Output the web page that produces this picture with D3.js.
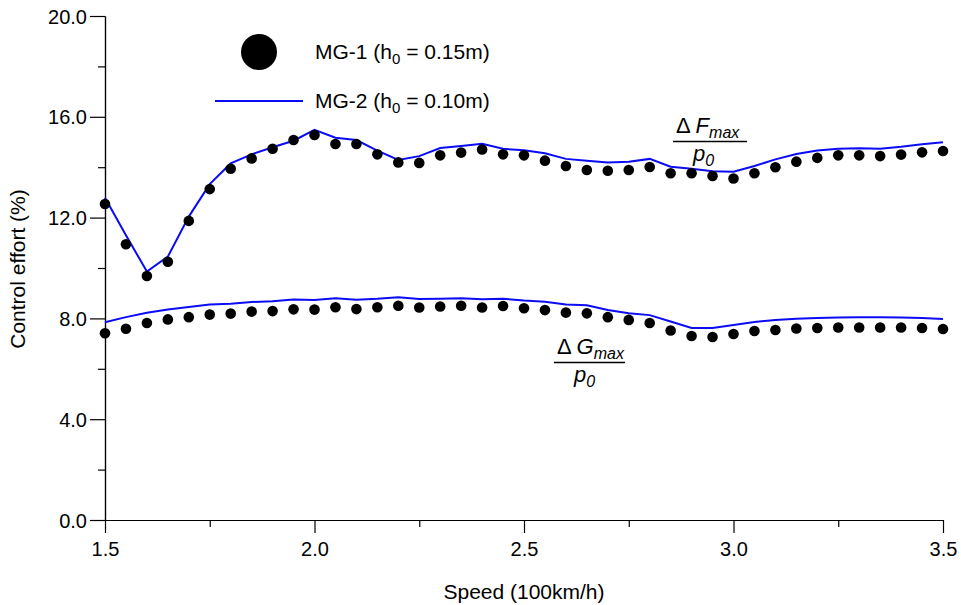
<!DOCTYPE html>
<html><head><meta charset="utf-8">
<script src="https://cdn.jsdelivr.net/npm/d3@7/dist/d3.min.js"></script>
<style>
body{margin:0;background:#fff}
text{font-family:"Liberation Sans",Arial,Helvetica,sans-serif;fill:#000}
</style>
</head><body>
<svg id="c" width="961" height="605"></svg>
<script>
// ---- data ----
const speed = [1.50,1.55,1.60,1.65,1.70,1.75,1.80,1.85,1.90,1.95,2.00,2.05,2.10,2.15,2.20,2.25,2.30,2.35,2.40,2.45,2.50,2.55,2.60,2.65,2.70,2.75,2.80,2.85,2.90,2.95,3.00,3.05,3.10,3.15,3.20,3.25,3.30,3.35,3.40,3.45,3.50];
// ΔFmax/p0 (%)
const mg1F = [12.54,10.94,9.68,10.25,11.87,13.13,13.94,14.35,14.73,15.08,15.28,14.92,14.92,14.51,14.19,14.17,14.47,14.58,14.70,14.51,14.47,14.26,14.05,13.89,13.86,13.89,14.01,13.76,13.76,13.65,13.55,13.76,14.00,14.22,14.37,14.47,14.47,14.44,14.50,14.59,14.64];
const mg2F = [12.79,11.30,9.86,10.45,12.04,13.33,14.15,14.51,14.79,15.05,15.48,15.17,15.08,14.66,14.29,14.44,14.76,14.84,14.93,14.73,14.67,14.55,14.33,14.26,14.19,14.22,14.33,14.02,13.94,13.84,13.82,14.05,14.31,14.52,14.66,14.73,14.75,14.73,14.81,14.91,14.99];
// ΔGmax/p0 (%)
const mg1G = [7.41,7.59,7.82,7.96,8.05,8.15,8.19,8.27,8.29,8.36,8.35,8.44,8.37,8.44,8.50,8.43,8.47,8.50,8.43,8.49,8.40,8.33,8.23,8.20,8.05,7.94,7.82,7.52,7.30,7.26,7.38,7.50,7.54,7.60,7.62,7.64,7.64,7.64,7.64,7.62,7.58];
const mg2G = [7.85,8.05,8.22,8.35,8.45,8.55,8.58,8.65,8.68,8.75,8.73,8.80,8.74,8.78,8.84,8.77,8.78,8.80,8.76,8.78,8.71,8.66,8.55,8.52,8.33,8.20,8.13,7.88,7.62,7.62,7.74,7.86,7.94,7.99,8.02,8.04,8.05,8.05,8.04,8.02,7.98];

const xTickValues = [1.5,2.0,2.5,3.0,3.5];
const xTickLabels = ["1.5","2.0","2.5","3.0","3.5"];
const xMinorTicks = [1.75,2.25,2.75,3.25];
const yTickValues = [0,4,8,12,16,20];
const yTickLabels = ["0.0","4.0","8.0","12.0","16.0","20.0"];
const yMinorTicks = [2,6,10,14,18];
const legendNames = [["MG-1 (h","0"," = 0.15m)"],["MG-2 (h","0"," = 0.10m)"]];
const xTitle = "Speed (100km/h)";
const yTitle = "Control effort (%)";

// ---- chart ----
const svg = d3.select("#c");
const x = d3.scaleLinear().domain([1.5,3.5]).range([105,943]);
const y = d3.scaleLinear().domain([0,20]).range([520,16]);
const BLUE = "#0b0bf5";
const FS = 20;

// axes
const gx = svg.append("g").attr("transform","translate(0,520)")
  .call(d3.axisBottom(x).tickValues(xTickValues).tickFormat((d,i)=>xTickLabels[i]).tickSize(13).tickSizeOuter(0).tickPadding(6));
const gxm = svg.append("g").attr("transform","translate(0,520)")
  .call(d3.axisBottom(x).tickValues(xMinorTicks).tickFormat("").tickSize(7).tickSizeOuter(0));
const gy = svg.append("g").attr("transform","translate(105,0)")
  .call(d3.axisLeft(y).tickValues(yTickValues).tickFormat((d,i)=>yTickLabels[i]).tickSize(15).tickSizeOuter(0).tickPadding(3));
const gym = svg.append("g").attr("transform","translate(105,0)")
  .call(d3.axisLeft(y).tickValues(yMinorTicks).tickFormat("").tickSize(7).tickSizeOuter(0));
[gx,gxm,gy,gym].forEach(g=>{
  g.selectAll("path,line").attr("stroke","#000").attr("stroke-width",1.2);
  g.selectAll("text").attr("font-size",FS).attr("font-family",'"Liberation Sans",Arial,sans-serif').attr("fill","#000");
});
gx.selectAll("text").attr("dy","0.85em");
gy.selectAll("text").attr("dy","0.35em");

// axis titles
svg.append("text").attr("x",524).attr("y",599).attr("text-anchor","middle").attr("font-size",21).text(xTitle);
svg.append("text").attr("transform","translate(25,269) rotate(-90)").attr("text-anchor","middle").attr("font-size",21).text(yTitle);

// lines
const line = d3.line().x((d,i)=>x(speed[i])).y(d=>y(d));
[mg2F,mg2G].forEach(s=>{
  svg.append("path").datum(s).attr("d",line).attr("fill","none").attr("stroke",BLUE).attr("stroke-width",2);
});
// dots
[mg1F,mg1G].forEach(s=>{
  svg.append("g").selectAll("circle").data(s).join("circle")
    .attr("cx",(d,i)=>x(speed[i])).attr("cy",d=>y(d)).attr("r",5.3).attr("fill","#000");
});

// legend
svg.append("circle").attr("cx",259).attr("cy",52).attr("r",18).attr("fill","#000");
svg.append("line").attr("x1",215).attr("x2",303).attr("y1",101).attr("y2",101).attr("stroke",BLUE).attr("stroke-width",2);
legendNames.forEach((n,i)=>{
  const t = svg.append("text").attr("x",315).attr("y",[59,108][i]).attr("font-size",21);
  t.append("tspan").text(n[0]);
  t.append("tspan").attr("font-size",15).attr("dy",5).text(n[1]);
  t.append("tspan").attr("dy",-5).text(n[2]);
});

// fraction annotations
function frac(x0, yb, letter, w){
  const t = svg.append("text").attr("x",x0).attr("y",yb).attr("font-size",22);
  t.append("tspan").text("\u0394 ");
  t.append("tspan").attr("font-style","italic").text(letter);
  t.append("tspan").attr("font-style","italic").attr("font-size",16).attr("dy",5).text("max");
  svg.append("line").attr("x1",x0-3).attr("x2",x0-3+w).attr("y1",yb+8.5).attr("y2",yb+8.5).attr("stroke","#000").attr("stroke-width",1.3);
  const p = svg.append("text").attr("x",x0+17).attr("y",yb+28).attr("font-size",22);
  p.append("tspan").attr("font-style","italic").text("p");
  p.append("tspan").attr("font-style","italic").attr("font-size",16).attr("dy",5).text("0");
}
frac(676,133,"F",74);
frac(557,354,"G",71);
</script>
</body></html>
